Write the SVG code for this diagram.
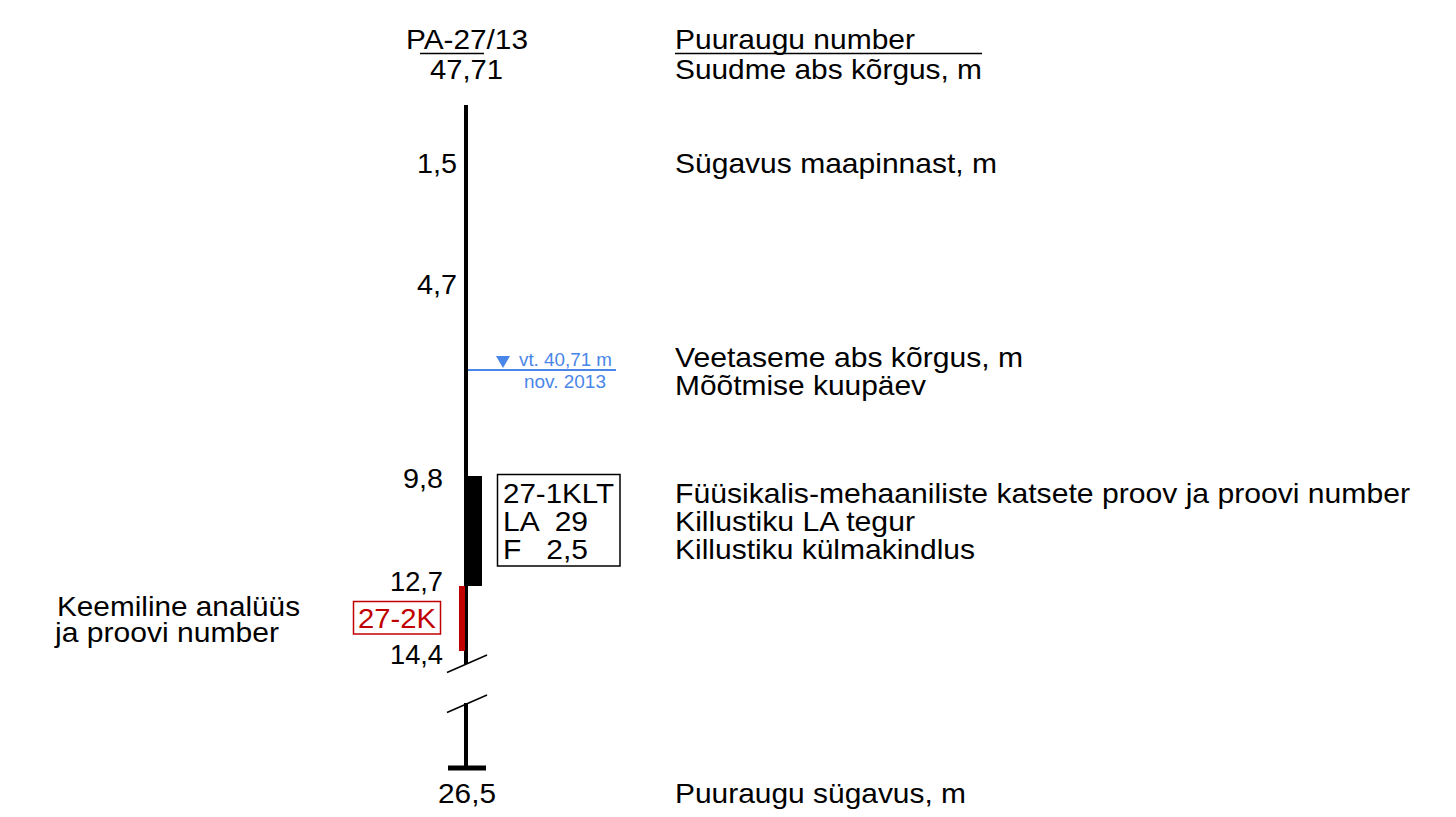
<svg xmlns="http://www.w3.org/2000/svg" width="1456" height="817" viewBox="0 0 1456 817">
<style>
text{font-family:"Liberation Sans",Arial,sans-serif;font-size:28px;fill:#000}
.b{fill:#4a86e8;font-size:19px}
.red{fill:#c00000}
.ln{stroke:#000;fill:none}
</style>
<rect width="1456" height="817" fill="#fff"/>
<g id="connectors">
<line class="ln" x1="466" y1="105" x2="466" y2="664" stroke-width="4"/>
<line class="ln" x1="447" y1="672.5" x2="487" y2="655" stroke-width="1.5"/>
<line class="ln" x1="447" y1="712.5" x2="487" y2="695" stroke-width="1.5"/>
<line class="ln" x1="466" y1="703" x2="466" y2="767" stroke-width="4"/>
<line class="ln" x1="448" y1="768" x2="486" y2="768" stroke-width="5"/>
</g>
<g id="header">
<text x="406" y="49" textLength="122" lengthAdjust="spacingAndGlyphs">PA-27/13</text>
<line class="ln" x1="420" y1="53.5" x2="484" y2="53.5" stroke-width="1.5"/>
<text x="430" y="79" textLength="73" lengthAdjust="spacingAndGlyphs">47,71</text>
<text x="675" y="49" textLength="240" lengthAdjust="spacingAndGlyphs">Puuraugu number</text>
<line class="ln" x1="675" y1="53.5" x2="982" y2="53.5" stroke-width="1.5"/>
<text x="675" y="79" textLength="307" lengthAdjust="spacingAndGlyphs">Suudme abs kõrgus, m</text>
</g>
<g id="depth-1-5">
<text x="417" y="173" textLength="40" lengthAdjust="spacingAndGlyphs">1,5</text>
<text x="675" y="173" textLength="322" lengthAdjust="spacingAndGlyphs">Sügavus maapinnast, m</text>
</g>
<g id="depth-4-7">
<text x="417" y="294" textLength="40" lengthAdjust="spacingAndGlyphs">4,7</text>
</g>
<g id="water-level">
<line x1="468" y1="370" x2="616" y2="370" stroke="#4a86e8" stroke-width="2"/>
<polygon points="496,356 510,356 503,368" fill="#4a86e8"/>
<text class="b" x="519" y="366" textLength="93" lengthAdjust="spacingAndGlyphs">vt. 40,71 m</text>
<text class="b" x="524" y="388" textLength="82" lengthAdjust="spacingAndGlyphs">nov. 2013</text>
<text x="675" y="367" textLength="348" lengthAdjust="spacingAndGlyphs">Veetaseme abs kõrgus, m</text>
<text x="675" y="395" textLength="251" lengthAdjust="spacingAndGlyphs">Mõõtmise kuupäev</text>
</g>
<g id="sample-klt">
<rect x="466" y="476" width="16" height="110" fill="#000"/>
<text x="403" y="488" textLength="40" lengthAdjust="spacingAndGlyphs">9,8</text>
<text x="390" y="591" textLength="53" lengthAdjust="spacingAndGlyphs">12,7</text>
<rect x="497.5" y="474.5" width="122.5" height="91.5" fill="#fff" stroke="#000" stroke-width="1.5"/>
<text x="503" y="503" textLength="111" lengthAdjust="spacingAndGlyphs">27-1KLT</text>
<text x="503" y="531" xml:space="preserve" textLength="85" lengthAdjust="spacingAndGlyphs">LA  29</text>
<text x="503" y="559" xml:space="preserve" textLength="85" lengthAdjust="spacingAndGlyphs">F   2,5</text>
<text x="675" y="503" textLength="735" lengthAdjust="spacingAndGlyphs">Füüsikalis-mehaaniliste katsete proov ja proovi number</text>
<text x="675" y="531" textLength="240" lengthAdjust="spacingAndGlyphs">Killustiku LA tegur</text>
<text x="675" y="559" textLength="300" lengthAdjust="spacingAndGlyphs">Killustiku külmakindlus</text>
</g>
<g id="sample-k">
<rect x="459" y="586" width="6" height="65" fill="#c00000"/>
<rect x="353.5" y="601.5" width="87" height="32.5" fill="#fff" stroke="#c00000" stroke-width="1.5"/>
<text class="red" x="358" y="628" textLength="78" lengthAdjust="spacingAndGlyphs">27-2K</text>
<text x="390" y="664" textLength="53" lengthAdjust="spacingAndGlyphs">14,4</text>
<text x="57" y="616" textLength="243" lengthAdjust="spacingAndGlyphs">Keemiline analüüs</text>
<text x="55" y="642" textLength="224" lengthAdjust="spacingAndGlyphs">ja proovi number</text>
</g>
<g id="bottom">
<text x="438" y="803" textLength="58" lengthAdjust="spacingAndGlyphs">26,5</text>
<text x="675" y="803" textLength="291" lengthAdjust="spacingAndGlyphs">Puuraugu sügavus, m</text>
</g>
</svg>
